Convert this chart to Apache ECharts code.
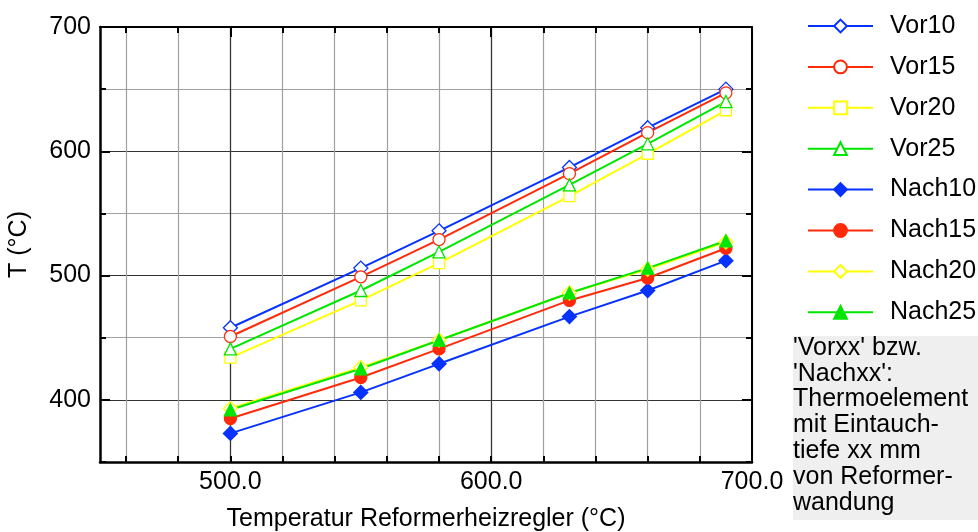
<!DOCTYPE html>
<html>
<head>
<meta charset="utf-8">
<script src="https://cdn.jsdelivr.net/npm/echarts@6/dist/echarts.min.js"></script>
<style>
  html, body { margin: 0; padding: 0; background: #fff; }
  #chart { width: 978px; height: 532px; }
</style>
</head>
<body>
<div id="chart"></div>
<script>
// Messwerte
const xWerte = [500, 550, 580, 630, 660, 690];
const vor10 = [458, 506, 536, 587, 619, 650];
const vor15 = [451, 499, 529, 582, 615, 647];
const vor20 = [434, 480, 510, 564, 598, 633];
const vor25 = [441, 488, 519, 573, 606, 640];
const nach10 = [373, 406, 429, 467, 488, 512];
const nach15 = [385, 418, 441, 480, 498, 522];
const nach20 = [393, 426, 448, 486, 505, 527];
const nach25 = [392, 425, 448, 486, 506, 528];

// Achsen
const xNebenTicks = [460, 480, 500, 520, 540, 560, 580, 600, 620, 640, 660, 680, 700];
const xHauptTicks = [500, 600];
const xLabels = [500, 600, 700];
const yHauptTicks = [400, 500, 600, 700];

const schrift = "'Liberation Sans', Arial, sans-serif";
const blau = "#0532ff";
const rot = "#ff2a0a";
const gelb = "#ffff00";
const gruen = "#00e600";

const pairs = (ys) => xWerte.map((x, i) => [x, ys[i]]);

// Serien-Definition (Name, Werte, Farbe, Symbol, gefüllt, Größe)
const serienDef = [
  ["Vor10", vor10, blau, "diamond", false, 14],
  ["Vor15", vor15, rot, "circle", false, 12],
  ["Vor20", vor20, gelb, "rect", false, 11],
  ["Vor25", vor25, gruen, "triangle", false, 12],
  ["Nach10", nach10, blau, "diamond", true, 14],
  ["Nach15", nach15, rot, "circle", true, 12],
  ["Nach20", nach20, gelb, "diamond", false, 14],
  ["Nach25", nach25, gruen, "triangle", true, 12],
];

const series = serienDef.map(([name, werte, farbe, symbol, voll, size]) => ({
  name: name,
  type: "line",
  xAxisIndex: 0,
  yAxisIndex: 0,
  data: pairs(werte),
  symbol: symbol,
  symbolSize: size,
  showAllSymbol: true,
  lineStyle: { color: farbe, width: 2 },
  itemStyle: {
    color: voll ? farbe : "#fff",
    borderColor: farbe,
    borderWidth: 1.3,
  },
  emphasis: { disabled: true },
  animation: false,
}));

const chart = echarts.init(document.getElementById("chart"));

const option = {
  animation: false,
  textStyle: { fontFamily: schrift },
  grid: { left: 100, top: 27, right: 226, bottom: 70, containLabel: false, outerBoundsMode: "none" },
  legend: {
    orient: "vertical",
    left: 802,
    top: 7,
    itemWidth: 65,
    itemHeight: 16,
    itemGap: 12.9,
    textStyle: { fontSize: 25, color: "#000", lineHeight: 28, padding: [0, 0, 0, 12], fontFamily: schrift },
    data: serienDef.map((d) => d[0]),
  },
  xAxis: [
    {
      type: "value",
      min: 450,
      max: 700,
      position: "bottom",
      axisLine: { show: true, onZero: false, lineStyle: { color: "#000", width: 2.5 } },
      axisTick: { show: true, inside: true, length: 6, customValues: xNebenTicks, lineStyle: { color: "#000", width: 2 } },
      axisLabel: {
        customValues: xLabels,
        formatter: (v) => v.toFixed(1),
        fontSize: 25,
        color: "#000",
        margin: 8,
        fontFamily: schrift,
      },
      splitLine: { show: true, lineStyle: { color: "#a0a0a0", width: 1.2 } },
      name: "Temperatur Reformerheizregler (°C)",
      nameLocation: "middle",
      nameGap: 45,
      nameTextStyle: { fontSize: 25, color: "#000", fontFamily: schrift },
    },
    {
      type: "value",
      min: 450,
      max: 700,
      position: "top",
      axisLine: { show: true, onZero: false, lineStyle: { color: "#000", width: 2 } },
      axisTick: { show: true, inside: true, length: 6, customValues: xNebenTicks, lineStyle: { color: "#000", width: 2 } },
      axisLabel: { show: false },
      splitLine: { show: false },
    },
    {
      type: "value",
      min: 450,
      max: 700,
      position: "top",
      axisLine: { show: false },
      axisTick: { show: true, inside: true, length: 10, customValues: xHauptTicks, lineStyle: { color: "#000", width: 2 } },
      axisLabel: { show: false },
      splitLine: { show: true, lineStyle: { color: "#333", width: 1.2 } },
    },
  ],
  yAxis: [
    {
      type: "value",
      min: 350,
      max: 700,
      interval: 50,
      position: "left",
      axisLine: { show: true, onZero: false, lineStyle: { color: "#000", width: 2.5 } },
      axisTick: { show: true, inside: true, length: 6, lineStyle: { color: "#000", width: 2 } },
      axisLabel: {
        formatter: (v) => (v % 100 === 0 ? String(v) : ""),
        fontSize: 25,
        color: "#000",
        margin: 9,
        fontFamily: schrift,
      },
      splitLine: { show: true, lineStyle: { color: "#a0a0a0", width: 1.2 } },
      name: "T (°C)",
      nameLocation: "middle",
      nameRotate: 90,
      nameGap: 68,
      nameTextStyle: { fontSize: 25, color: "#000", fontFamily: schrift },
    },
    {
      type: "value",
      min: 350,
      max: 700,
      position: "left",
      axisLine: { show: false },
      axisTick: { show: true, inside: true, length: 10, customValues: yHauptTicks, lineStyle: { color: "#000", width: 2 } },
      axisLabel: { show: false },
      splitLine: { show: true, lineStyle: { color: "#333", width: 1.2 } },
    },
    {
      type: "value",
      min: 350,
      max: 700,
      interval: 50,
      position: "right",
      axisLine: { show: true, onZero: false, lineStyle: { color: "#000", width: 2 } },
      axisTick: { show: true, inside: true, length: 6, lineStyle: { color: "#000", width: 2 } },
      axisLabel: { show: false },
      splitLine: { show: false },
    },
    {
      type: "value",
      min: 350,
      max: 700,
      position: "right",
      axisLine: { show: false },
      axisTick: { show: true, inside: true, length: 10, customValues: yHauptTicks, lineStyle: { color: "#000", width: 2 } },
      axisLabel: { show: false },
      splitLine: { show: false },
    },
  ],
  graphic: [
    {
      type: "rect",
      left: 793,
      top: 336,
      shape: { width: 185, height: 184 },
      style: { fill: "#efefef" },
      silent: true,
    },
    {
      type: "text",
      left: 793,
      top: 335,
      style: {
        text: "'Vorxx' bzw.\n'Nachxx':\nThermoelement\nmit Eintauch-\ntiefe xx mm\nvon Reformer-\nwandung",
        font: "25px 'Liberation Sans', Arial, sans-serif",
        lineHeight: 25.8,
        fill: "#000",
      },
      silent: true,
    },
  ],
  series: series,
};

chart.setOption(option);
</script>
</body>
</html>
